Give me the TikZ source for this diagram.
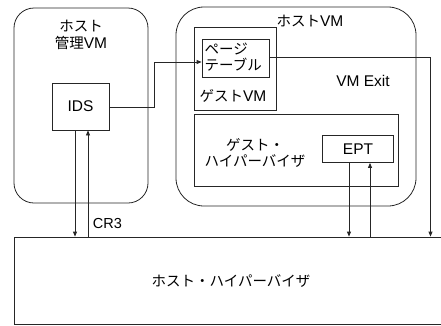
\documentclass[tikz,border=0pt]{standalone}
\usepackage{fontspec}
\setmainfont{Liberation Sans}
\newfontfamily\jp{Noto Sans CJK JP}
\usetikzlibrary{arrows.meta}
\begin{document}
\begin{tikzpicture}[x=1pt,y=-1pt,
  every node/.style={font=\fontsize{15.5}{17}\selectfont, inner sep=0pt},
  jpt/.style={font=\jp\fontsize{14.5}{17}\selectfont},
  box/.style={draw=black!85, line width=0.8pt},
  lbl/.style={align=center},
  conn/.style={draw=black!85, line width=0.8pt},
  arr/.style={conn, -{Triangle[length=5pt,width=4pt]}}]
\useasboundingbox (0,0) rectangle (441,325);
\clip (0,0) rectangle (441,325);
% host hypervisor
\node[box, minimum width=436pt, minimum height=87pt] (hhv) at (232,280.5) {};
\node[jpt] (hhvt) at (231,281.5) {ホスト・ハイパーバイザ};
% host management VM
\node[box, rounded corners=20pt, minimum width=134pt, minimum height=195pt] (mgmt) at (81,105.5) {};
\node[lbl, jpt] (mgmtt) at (81,34.5) {ホスト\\管理{\fontspec{Liberation Sans}\fontsize{15.5}{17}\selectfont VM}};
\node[box, minimum width=57pt, minimum height=47pt] (ids) at (80.5,106.5) {IDS};
% host VM
\node[box, rounded corners=28pt, minimum width=240pt, minimum height=199pt] (hostvm) at (296,106.5) {};
\node (hostvmt) at (310,21) {{\jp\fontsize{14.5}{17}\selectfont ホスト}VM};
\node[box, minimum width=82pt, minimum height=83pt] (guestvm) at (235,68.5) {};
\node (guestvmt) at (233,96) {{\jp\fontsize{14.5}{17}\selectfont ゲスト}VM};
\node[box, minimum width=67pt, minimum height=38pt] (pt) at (235.5,58) {};
\node[jpt, align=left, anchor=west, font=\jp\fontsize{14.5}{16.5}\selectfont] (ptt) at (204.5,57) {ページ\\テーブル};
\node (vmexit) at (363,80.5) {VM Exit};
\node[box, minimum width=204pt, minimum height=72pt] (ghv) at (296,150) {};
\node[lbl, jpt, font=\jp\fontsize{14.5}{16}\selectfont] (ghvt) at (255,153) {ゲスト・\\ハイパーバイザ};
\node[box, minimum width=71pt, minimum height=27pt] (ept) at (358,149) {EPT};
% coordinates
\coordinate (c1) at (154,107);
\coordinate (c2) at (154,62);
\coordinate (c3) at (430.5,57);
% connectors
\draw[arr] (ids.east |- 0,107) -- (c1) -- (c2) -- (pt.west |- c2);
\draw[arr] (pt.east |- c3) -- (c3) -- (c3 |- hhv.north);
\draw[arr] (ids.south -| 75,0) -- (hhv.north -| 75,0);
\draw[arr] (hhv.north -| 88,0) -- (ids.south -| 88,0);
\draw[arr] (ept.south -| 349,0) -- (hhv.north -| 349,0);
\draw[arr] (hhv.north -| 370,0) -- (ept.south -| 370,0);
\node[font=\fontsize{14.5}{16}\selectfont] (cr3) at (107.5,223.5) {CR3};
\end{tikzpicture}
\end{document}
